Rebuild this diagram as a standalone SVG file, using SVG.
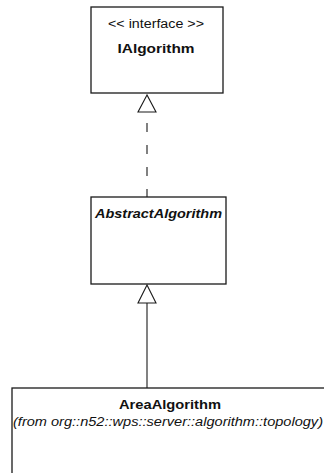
<svg xmlns="http://www.w3.org/2000/svg" width="324" height="473" viewBox="0 0 324 473">
  <style>
    .box { fill: #ffffff; stroke: #1a1a1a; stroke-width: 1.3; }
    .edge { fill: none; stroke: #1a1a1a; stroke-width: 1.1; }
    .head { fill: #ffffff; stroke: #1a1a1a; stroke-width: 1.1; }
    text { font-family: "Liberation Sans", Arial, sans-serif; fill: #111111; text-anchor: middle; }
    .stereo { font-size: 12px; }
    .name { font-size: 13.5px; font-weight: bold; }
    .abstract { font-size: 13.5px; font-weight: bold; font-style: italic; }
    .pkg { font-size: 12.5px; font-style: italic; text-anchor: start; }
  </style>
  <rect width="324" height="473" fill="#ffffff"/>

  <g id="IAlgorithm">
    <rect class="box" x="91" y="7" width="132" height="86"/>
    <text class="stereo" x="156" y="28" textLength="96" lengthAdjust="spacingAndGlyphs">&lt;&lt; interface &gt;&gt;</text>
    <text class="name" x="156" y="53" textLength="77" lengthAdjust="spacingAndGlyphs">IAlgorithm</text>
  </g>

  <g id="AbstractAlgorithm">
    <rect class="box" x="91" y="197" width="135" height="87"/>
    <text class="abstract" x="158.5" y="218" textLength="127" lengthAdjust="spacingAndGlyphs">AbstractAlgorithm</text>
  </g>

  <g id="AreaAlgorithm">
    <rect class="box" x="12" y="388" width="330" height="100"/>
    <text class="name" x="170" y="409" textLength="102" lengthAdjust="spacingAndGlyphs">AreaAlgorithm</text>
    <text class="pkg" x="13" y="426" textLength="310" lengthAdjust="spacingAndGlyphs">(from org::n52::wps::server::algorithm::topology)</text>
  </g>

  <g id="connectors">
    <!-- realization: AbstractAlgorithm implements IAlgorithm -->
    <line class="edge" x1="147" y1="123" x2="147" y2="197" stroke-dasharray="9 13"/>
    <polygon class="head" points="147,95 138,112 156,112"/>
    <!-- generalization: AreaAlgorithm extends AbstractAlgorithm -->
    <line class="edge" x1="147" y1="303" x2="147" y2="388"/>
    <polygon class="head" points="147,285 138,303 156,303"/>
  </g>
</svg>
